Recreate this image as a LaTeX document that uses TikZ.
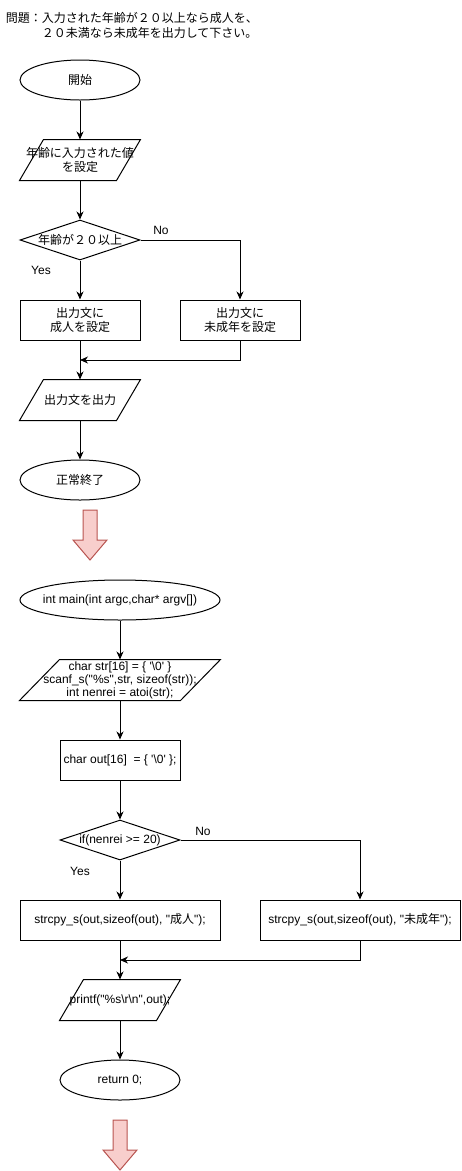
\documentclass[tikz,border=0pt]{standalone}
\usepackage{fontspec}
\setmainfont{Liberation Sans}[Ligatures=TeXOff]
\newfontfamily\jp{Noto Sans CJK JP}
\definecolor{rosefill}{HTML}{F8CECC}
\definecolor{roseline}{HTML}{B85450}
\usetikzlibrary{shapes, shapes.geometric, arrows, arrows.meta, calc}
\newcommand{\zw}[1]{\makebox[0pt]{#1}}

\begin{document}
\begin{tikzpicture}[x=1pt, y=-1pt, line width=1pt, font=\fontsize{12pt}{14pt}\selectfont,
    terminal/.style = {ellipse, draw, inner sep=0pt, minimum height=40pt},
    io/.style = {rectangle, inner sep=0pt, minimum height=40pt, align=center},
    proc/.style = {rectangle, draw, inner sep=0pt, minimum height=40pt, align=center},
    test/.style = {diamond, draw, inner sep=0pt, minimum height=40pt},
    flow/.style = {->, >={Stealth[length=8pt, width=7pt, inset=2.5pt]}},
    bigarrow/.style = {fill=rosefill, draw=roseline}]
    \useasboundingbox (0,0) rectangle (461,1171);

    %% question
    \node [anchor=west, font=\jp\fontsize{12pt}{15pt}\selectfont] (title1) at (2,18) {問題：入力された年齢が２０以上なら成人を、};
    \node [anchor=west, font=\jp\fontsize{12pt}{15pt}\selectfont] (title2) at (38,33) {２０未満なら未成年を出力して下さい。};

    %% first chart
    \node [terminal, minimum width=120pt] (start) at (80,80) {\zw{\jp 開始}};
    \node [io, minimum width=120pt] (input) at (80,160) {\jp 年齢に入力された値\\\jp を設定};
    \node [test, minimum width=120pt] (check) at (80,240) {\zw{\jp 年齢が２０以上}};
    \node [proc, minimum width=120pt] (adult) at (80,320) {\jp 出力文に\\\jp 成人を設定};
    \node [proc, minimum width=120pt] (minor) at (240,320) {\jp 出力文に\\\jp 未成年を設定};
    \coordinate (join1) at (80,360);
    \node [io, minimum width=120pt] (output) at (80,400) {\jp 出力文を出力};
    \node [terminal, minimum width=120pt] (finish) at (80,480) {\zw{\jp 正常終了}};
    \node (no1) at (161,230) {No};
    \node (yes1) at (41,270) {Yes};

    \draw[flow] (start) -- (input);
    \draw[flow] (input) -- (check);
    \draw[flow] (check) -- (adult);
    \draw[flow] (check.east) -| (minor.north);
    \draw[flow] (adult) -- (output);
    \draw[flow] (minor.south) |- (join1);
    \draw[flow] (output) -- (finish);

    %%%%%%%%%%%%%%%%%%%%%%%%%%%%%%%%

    %% second chart
    \node [terminal, minimum width=200pt] (main) at (120,600) {\zw{int main(int argc,char* argv[])}};
    \node [io, minimum width=200pt, font=\fontsize{12pt}{13pt}\selectfont] (read) at (120,680)
        {char str[16] = \{ '\textbackslash 0' \}\\scanf\_s("\%s",str, sizeof(str));\\int nenrei = atoi(str);};
    \node [proc, minimum width=120pt] (init) at (120,760) {char out[16]\ \ = \{ '\textbackslash 0' \};};
    \node [test, minimum width=120pt] (cond) at (120,840) {\zw{if(nenrei >= 20)}};
    \node [proc, minimum width=200pt] (cpyadult) at (120,920) {strcpy\_s(out,sizeof(out), "{\jp 成人}");};
    \node [proc, minimum width=200pt] (cpyminor) at (360,920) {strcpy\_s(out,sizeof(out), "{\jp 未成年}");};
    \coordinate (join2) at (120,960);
    \node [io, minimum width=120pt] (print) at (120,1000) {printf("\%s\textbackslash r\textbackslash n",out);};
    \node [terminal, minimum width=120pt] (ret) at (120,1080) {\zw{return 0;}};
    \node (no2) at (203,831) {No};
    \node (yes2) at (80,871) {Yes};

    \draw[flow] (main) -- (read);
    \draw[flow] (read) -- (init);
    \draw[flow] (init) -- (cond);
    \draw[flow] (cond) -- (cpyadult);
    \draw[flow] (cond.east) -| (cpyminor.north);
    \draw[flow] (cpyadult) -- (print);
    \draw[flow] (cpyminor.south) |- (join2);
    \draw[flow] (print) -- (ret);

    %% slanted sides of the in/out boxes
    \foreach \n/\s in {input/24, output/24, read/40, print/24}
    {
        \draw ($(\n.south west)$) -- ($(\n.north west)+(\s,0)$) -- (\n.north east)
            -- ($(\n.south east)-(\s,0)$) -- cycle;
    }

    %% pink arrows
    \foreach \x/\y in {90/510, 120/1120}
    {
        \draw[bigarrow] (\x-7,\y) -- (\x+7,\y) -- (\x+7,\y+30) -- (\x+17,\y+30)
            -- (\x,\y+50) -- (\x-17,\y+30) -- (\x-7,\y+30) -- cycle;
    }

\end{tikzpicture}
\end{document}
